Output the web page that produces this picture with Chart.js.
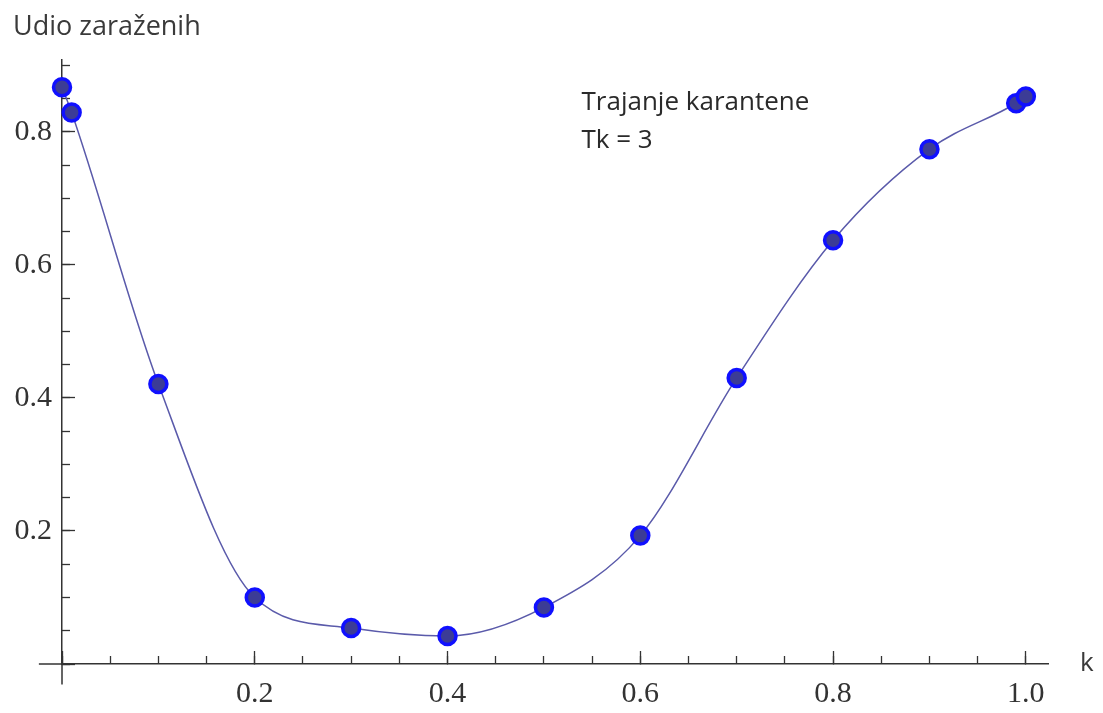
<!DOCTYPE html>
<html>
<head>
<meta charset="utf-8">
<script src="https://cdn.jsdelivr.net/npm/chart.js@4.4.1/dist/chart.umd.min.js"></script>
<style>
  html, body { margin: 0; padding: 0; background: #ffffff; }
  #wrap { width: 1103px; height: 713px; position: relative; }
</style>
</head>
<body>
<div id="wrap"><canvas id="c"></canvas></div>
<script>
// ---- data ----
const kValues = [0, 0.01, 0.1, 0.2, 0.3, 0.4, 0.5, 0.6, 0.7, 0.8, 0.9, 0.99, 1.0];
const infectedShare = [0.867, 0.829, 0.421, 0.100, 0.054, 0.042, 0.085, 0.193, 0.430, 0.637, 0.774, 0.843, 0.853];
const xMajorStep = 0.2;
const xMinorStep = 0.05;
const yMajorStep = 0.2;
const yMinorStep = 0.05;
const yAxisTitle = 'Udio zaraženih';
const xAxisTitle = 'k';
const noteLines = ['Trajanje karantene', 'Tk = 3'];

const points = kValues.map((k, i) => ({ x: k, y: infectedShare[i] }));

const axisColor = '#333333';
const tickFont = { family: 'Liberation Serif', size: 30 };
const fmt = v => (Math.abs(v) < 1e-9 ? '' : Number(v).toFixed(1));

const decorPlugin = {
  id: 'decor',
  afterDraw(chart) {
    const ctx = chart.ctx;
    const xs = chart.scales.x, ys = chart.scales.y;
    const x0 = xs.getPixelForValue(0), y0 = ys.getPixelForValue(0);
    ctx.save();
    // axis extensions past the origin (Mathematica style)
    ctx.strokeStyle = axisColor;
    ctx.lineWidth = 1.5;
    ctx.beginPath();
    ctx.moveTo(xs.getPixelForValue(-0.024), y0);
    ctx.lineTo(x0, y0);
    ctx.moveTo(x0, y0);
    ctx.lineTo(x0, ys.getPixelForValue(-0.031));
    ctx.stroke();
    // texts
    ctx.fillStyle = '#3a3a3a';
    ctx.textBaseline = 'alphabetic';
    ctx.textAlign = 'left';
    ctx.font = '27px "Open Sans"';
    ctx.fillText(yAxisTitle, 13, 35);
    ctx.font = '26px "Open Sans"';
    ctx.fillText(xAxisTitle, xs.right + 32, y0 + 7);
    ctx.fillStyle = '#2a2a2a';
    const nx = xs.getPixelForValue(0.539);
    ctx.fillText(noteLines[0], nx, 109.5);
    ctx.fillText(noteLines[1], nx, 147.5);
    ctx.restore();
  }
};

new Chart(document.getElementById('c'), {
  type: 'line',
  data: {
    datasets: [{
      data: points,
      xAxisID: 'x',
      yAxisID: 'y',
      borderColor: '#5a5aaa',
      borderWidth: 1.5,
      cubicInterpolationMode: 'monotone',
      pointRadius: 8.5,
      pointBorderWidth: 3.5,
      pointBackgroundColor: '#3c3c96',
      pointBorderColor: '#1010ff',
      fill: false,
      clip: false
    }]
  },
  options: {
    responsive: true,
    maintainAspectRatio: false,
    animation: false,
    events: [],
    layout: { padding: { top: 60, right: 55, left: 0, bottom: 0 } },
    plugins: { legend: { display: false }, tooltip: { enabled: false }, title: { display: false } },
    scales: {
      x: {
        type: 'linear', position: 'bottom', min: 0, max: 1.023, weight: 1,
        ticks: { stepSize: xMajorStep, includeBounds: false, callback: fmt, font: tickFont, color: axisColor, padding: 25, maxRotation: 0, autoSkip: false },
        grid: { drawOnChartArea: false, drawTicks: true, tickLength: -13, tickColor: axisColor, tickWidth: 1.3 },
        border: { display: true, color: axisColor, width: 1.5 },
        afterFit: s => { s.height = 49; }
      },
      x2: {
        type: 'linear', position: 'bottom', min: 0, max: 1.023, weight: 0,
        ticks: { stepSize: xMinorStep, includeBounds: false, display: false },
        grid: { drawOnChartArea: false, drawTicks: true, tickLength: -8, tickColor: axisColor, tickWidth: 1.3 },
        border: { display: false },
        afterFit: s => { s.height = 0; }
      },
      y: {
        type: 'linear', position: 'left', min: 0, max: 0.908, weight: 1, z: 1,
        ticks: { stepSize: yMajorStep, includeBounds: false, callback: fmt, font: tickFont, color: axisColor, padding: 23 },
        grid: { drawOnChartArea: false, drawTicks: true, tickLength: -13, tickColor: axisColor, tickWidth: 1.3 },
        border: { display: true, color: axisColor, width: 1.5 },
        afterFit: s => { s.width = 62; }
      },
      y2: {
        type: 'linear', position: 'left', min: 0, max: 0.908, weight: 0, z: 1,
        ticks: { stepSize: yMinorStep, includeBounds: false, display: false },
        grid: { drawOnChartArea: false, drawTicks: true, tickLength: -8, tickColor: axisColor, tickWidth: 1.3 },
        border: { display: false },
        afterFit: s => { s.width = 0; }
      }
    }
  },
  plugins: [decorPlugin]
});
</script>
</body>
</html>
